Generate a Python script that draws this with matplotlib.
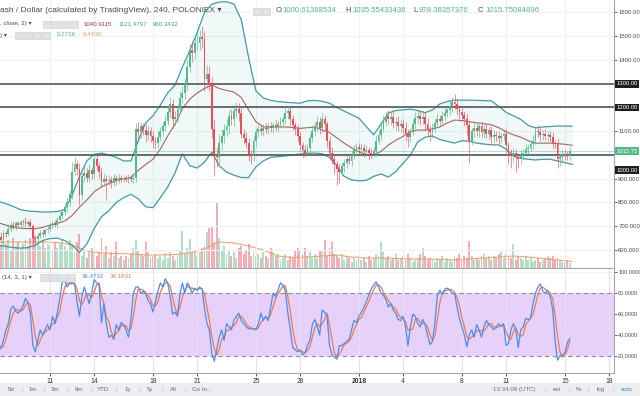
import numpy as np
import matplotlib.pyplot as plt
import matplotlib.transforms as mtransforms
from matplotlib.patches import Rectangle

plt.rcParams['font.family'] = ['Liberation Sans', 'DejaVu Sans']

# 4h candles, first one Dec 7 12:00 UTC; day 0 = Dec 11
first_open = 662
closes = [
    655, 640, 672,                              # Dec 7
    668, 690, 705, 698, 712, 706,               # Dec 8
    716, 722, 710, 718, 700, 650,               # Dec 9
    648, 660, 672, 668, 684, 690,               # Dec 10
    700, 712, 705, 728, 745, 760,               # Dec 11
    780, 800, 835, 930, 960, 940,               # Dec 12
    830, 910, 925, 905, 935, 920,               # Dec 13
    985, 955, 930, 885, 900, 890,               # Dec 14
    895, 880, 902, 890, 905, 898,               # Dec 15
    902, 895, 908, 898, 905, 1110,              # Dec 16
    1095, 1120, 1105, 1085, 1100, 1080,         # Dec 17
    1060, 1050, 1075, 1100, 1120, 1145,         # Dec 18
    1180, 1215, 1150, 1160, 1195, 1240,         # Dec 19
    1260, 1300, 1370, 1440, 1430, 1470,         # Dec 20
    1470, 1495, 1490, 1320, 1340, 1300,         # Dec 21
    1110, 1000, 990, 1050, 1080, 1105,          # Dec 22
    1120, 1165, 1150, 1185, 1195, 1175,         # Dec 23
    1090, 1070, 1050, 1005, 1000, 1060,         # Dec 24
    1095, 1110, 1100, 1115, 1108, 1120,         # Dec 25
    1112, 1125, 1118, 1130, 1140, 1150,         # Dec 26
    1175, 1185, 1150, 1125, 1110, 1080,         # Dec 27
    1040, 1020, 1010, 1030, 1070, 1100,         # Dec 28
    1120, 1140, 1115, 1150, 1130, 1060,         # Dec 29
    1010, 985, 960, 940, 930, 955,              # Dec 30
    965, 985, 975, 1000, 1020, 1035,            # Dec 31
    1025, 1030, 1015, 1020, 1010, 1005,         # Jan 1
    1015, 1060, 1085, 1110, 1140, 1165,         # Jan 2
    1150, 1160, 1135, 1140, 1120, 1130,         # Jan 3
    1115, 1090, 1075, 1100, 1130, 1155,         # Jan 4
    1165, 1150, 1160, 1130, 1105, 1095,         # Jan 5
    1115, 1135, 1150, 1145, 1165, 1175,         # Jan 6
    1190, 1205, 1225, 1215, 1195, 1180,         # Jan 7
    1170, 1150, 1125, 1060, 1100, 1115,         # Jan 8
    1100, 1120, 1095, 1110, 1090, 1105,         # Jan 9
    1075, 1085, 1080, 1070, 1078, 1090,         # Jan 10
    1040, 1000, 995, 1010, 990, 985,            # Jan 11
    1000, 1010, 1025, 1030, 1045, 1060,         # Jan 12
    1100, 1095, 1085, 1090, 1080, 1085,         # Jan 13
    1075, 1050, 1045, 985, 990, 1005,           # Jan 14
    1003, 1000.61, 1015.75,                     # Jan 15
]
wick_up = [
    15, 20, 12,
    10, 14, 12, 18, 10, 12,
    12, 10, 16, 10, 14, 10,
    14, 10, 12, 16, 10, 12,
    12, 10, 14, 12, 15, 10,
    15, 20, 18, 40, 30, 20,
    25, 20, 30, 20, 25, 15,
    25, 20, 15, 20, 25, 15,
    20, 15, 18, 12, 15, 10,
    10, 12, 14, 10, 20, 25,
    30, 20, 15, 25, 20, 18,
    20, 15, 25, 18, 20, 25,
    25, 30, 20, 25, 20, 30,
    30, 25, 30, 30, 40, 25,
    40, 30, 50, 30, 40, 35,
    30, 40, 30, 40, 30, 25,
    30, 25, 30, 25, 30, 25,
    25, 20, 25, 20, 15, 20,
    20, 15, 20, 15, 20, 15,
    20, 15, 25, 15, 20, 20,
    25, 20, 15, 20, 15, 20,
    20, 15, 20, 15, 20, 25,
    20, 25, 20, 25, 20, 15,
    20, 25, 20, 15, 20, 15,
    20, 15, 20, 15, 20, 15,
    15, 20, 15, 20, 15, 20,
    20, 25, 20, 25, 30, 20,
    25, 20, 30, 20, 25, 20,
    20, 25, 20, 15, 20, 25,
    25, 20, 30, 20, 25, 15,
    20, 15, 25, 20, 20, 25,
    20, 25, 20, 30, 20, 15,
    20, 15, 25, 20, 15, 20,
    20, 15, 20, 15, 20, 15,
    15, 20, 15, 20, 15, 20,
    20, 15, 25, 20, 15, 20,
    20, 15, 20, 15, 20, 25,
    20, 25, 20, 15, 20, 15,
    15, 20, 15, 25, 20, 15,
    20, 15, 19.8,
]
wick_dn = [
    18, 10, 15,
    12, 10, 15, 8, 14, 10,
    10, 14, 8, 12, 10, 22,
    20, 12, 8, 14, 10, 12,
    10, 12, 8, 12, 10, 14,
    12, 18, 15, 20, 15, 25,
    40, 20, 25, 20, 18, 20,
    15, 20, 25, 20, 15, 80,
    15, 20, 12, 15, 10, 12,
    12, 10, 14, 10, 15, 20,
    40, 25, 20, 30, 20, 25,
    30, 25, 20, 15, 18, 20,
    20, 25, 35, 25, 20, 20,
    20, 25, 30, 20, 40, 25,
    30, 30, 40, 50, 40, 30,
    40, 90, 40, 30, 30, 30,
    25, 30, 25, 30, 25, 30,
    20, 25, 20, 30, 40, 25,
    25, 20, 15, 20, 15, 20,
    15, 20, 15, 20, 15, 18,
    20, 25, 30, 20, 25, 20,
    25, 30, 20, 15, 20, 15,
    15, 20, 25, 20, 25, 30,
    30, 25, 40, 65, 50, 20,
    25, 20, 15, 20, 15, 20,
    20, 15, 25, 20, 30, 20,
    15, 20, 15, 20, 15, 20,
    20, 25, 20, 30, 20, 25,
    25, 30, 40, 20, 15, 20,
    20, 25, 20, 30, 25, 35,
    25, 20, 15, 20, 15, 20,
    15, 20, 25, 20, 25, 30,
    25, 30, 40, 95, 20, 25,
    20, 25, 20, 25, 20, 25,
    30, 25, 20, 25, 20, 15,
    30, 40, 50, 30, 60, 40,
    25, 20, 15, 20, 15, 20,
    15, 20, 25, 20, 15, 20,
    20, 25, 15, 40, 30, 20,
    25, 20, 22.2,
]
# volume in thousands
volume = [
    30, 22, 26,
    24, 28, 18, 30, 22, 26,
    20, 24, 28, 22, 30, 38,
    32, 26, 22, 28, 20, 24,
    22, 18, 26, 20, 24, 28,
    22, 18, 28, 24, 16, 26,
    34, 12, 18, 10, 16, 20,
    18, 12, 16, 30, 14, 22,
    10, 16, 12, 26, 10, 12,
    8, 12, 10, 14, 20, 28,
    18, 14, 12, 26, 16, 10,
    12, 14, 10, 12, 8, 15,
    10, 16, 12, 8, 14, 18,
    37, 14, 20, 29, 16, 18,
    12, 16, 20, 22, 36, 40,
    42, 26, 65, 30, 18, 22,
    14, 18, 12, 16, 10, 20,
    22, 14, 18, 24, 12, 16,
    12, 14, 10, 16, 12, 10,
    20, 16, 12, 14, 8, 10,
    14, 8, 12, 10, 18, 20,
    18, 14, 20, 12, 16, 10,
    14, 10, 18, 16, 28, 12,
    20, 26, 14, 12, 10, 14,
    8, 12, 10, 6, 10, 8,
    12, 8, 10, 6, 12, 8,
    10, 14, 12, 26, 16, 10,
    12, 8, 10, 14, 8, 10,
    12, 8, 14, 10, 6, 8,
    10, 14, 20, 12, 8, 10,
    8, 6, 10, 8, 12, 6,
    10, 8, 6, 12, 10, 14,
    8, 12, 10, 27, 12, 8,
    10, 8, 12, 14, 10, 12,
    8, 12, 10, 14, 16, 10,
    14, 12, 10, 24, 8, 12,
    10, 8, 12, 8, 10, 6,
    8, 10, 6, 8, 10, 12,
    10, 12, 8, 10, 8, 6,
    6, 8, 5.273,
]
stoch_k = [
    25, 28, 35,
    45, 51, 65, 68, 63, 61,
    64, 68, 75, 71, 60, 30,
    24, 35, 45, 40, 45, 50,
    45, 58, 51, 62, 75, 91,
    92, 86, 90, 90, 89, 72,
    58, 77, 86, 78, 70, 80,
    93, 90, 88, 52, 70, 50,
    38, 40, 36, 50, 45, 52,
    50, 45, 38, 55, 80, 86,
    86, 80, 82, 80, 73, 70,
    62, 72, 82, 90, 86, 94,
    90, 77, 60, 62, 58, 80,
    90, 80, 90, 86, 80, 85,
    83, 86, 84, 66, 51, 45,
    22, 15, 26, 38, 45, 35,
    51, 48, 45, 54, 58, 61,
    54, 51, 48, 46, 46, 46,
    45, 51, 61, 54, 58, 54,
    67, 80, 77, 83, 90, 88,
    82, 61, 45, 28, 26, 24,
    26, 21, 23, 30, 35, 50,
    55, 48, 40, 64, 62, 58,
    30, 21, 19, 17, 30, 30,
    32, 34, 36, 45, 54, 52,
    58, 62, 66, 72, 78, 84,
    88, 91, 86, 80, 78, 74,
    67, 70, 64, 61, 55, 54,
    58, 48, 30, 48, 60, 58,
    51, 48, 55, 50, 40, 31,
    34, 52, 78, 83, 79, 84,
    85, 83, 80, 80, 67, 56,
    48, 40, 29, 40, 45, 38,
    50, 45, 38, 48, 54, 50,
    48, 45, 48, 51, 48, 51,
    30, 32, 45, 51, 45, 28,
    45, 48, 56, 55, 56, 70,
    80, 86, 89, 82, 80, 83,
    77, 65, 35, 16, 20, 21,
    23, 33, 36.4732,
]
stoch_d = [
    30, 28, 29,
    36, 45, 54, 61, 65, 64,
    63, 64, 69, 71, 69, 54,
    38, 30, 35, 40, 43, 45,
    47, 51, 51, 57, 63, 76,
    86, 90, 89, 89, 90, 84,
    73, 69, 74, 80, 78, 76,
    81, 88, 90, 77, 70, 57,
    53, 43, 38, 42, 44, 49,
    49, 49, 44, 46, 58, 74,
    84, 84, 83, 81, 78, 74,
    68, 68, 72, 81, 86, 90,
    90, 87, 76, 66, 60, 67,
    76, 83, 87, 85, 85, 84,
    83, 85, 84, 79, 67, 54,
    39, 27, 21, 26, 36, 39,
    44, 45, 48, 49, 52, 58,
    58, 55, 51, 48, 47, 46,
    46, 47, 52, 55, 58, 55,
    60, 67, 75, 80, 83, 87,
    87, 77, 63, 45, 33, 26,
    25, 24, 23, 25, 29, 38,
    47, 51, 48, 51, 55, 61,
    50, 36, 23, 19, 22, 26,
    31, 32, 34, 38, 45, 50,
    55, 57, 62, 67, 72, 78,
    83, 88, 88, 86, 81, 77,
    73, 70, 67, 65, 60, 57,
    56, 53, 45, 45, 46, 55,
    56, 52, 51, 51, 48, 40,
    35, 39, 55, 71, 80, 82,
    83, 84, 83, 81, 76, 68,
    57, 48, 39, 36, 38, 41,
    44, 44, 44, 44, 47, 51,
    51, 48, 47, 48, 49, 50,
    43, 38, 36, 43, 47, 41,
    39, 40, 50, 53, 56, 60,
    69, 79, 85, 86, 84, 82,
    80, 75, 59, 39, 24, 19,
    21, 26, 34.1831,
]

# Bollinger bands (20, close, 2), read every half day
bb_days = [-3.5 + 0.5 * k for k in range(79)]
bb_upper = [805, 795, 783, 770, 764, 762, 760, 760, 762, 770, 830, 910, 975, 1003, 1008,
            1000, 990, 975, 975, 1060, 1135, 1165, 1210, 1262, 1295, 1370, 1440, 1515,
            1600, 1635, 1644, 1645, 1636, 1570, 1410, 1270, 1240, 1230, 1225, 1222, 1220,
            1218, 1228, 1230, 1226, 1218, 1200, 1185, 1170, 1155, 1120, 1085, 1130, 1177,
            1187, 1190, 1193, 1187, 1178, 1190, 1215, 1225, 1231, 1231, 1231, 1230, 1229,
            1228, 1205, 1180, 1165, 1150, 1125, 1114, 1118, 1120, 1122, 1122, 1121.48]
bb_basis = [714, 705, 695, 692, 690, 690, 695, 705, 712, 722, 745, 780, 810, 845, 866,
            880, 893, 900, 905, 935, 960, 982, 1025, 1080, 1130, 1195, 1235, 1261,
            1280, 1295, 1280, 1272, 1265, 1242, 1190, 1140, 1118, 1118, 1118, 1118, 1116,
            1112, 1115, 1118, 1105, 1095, 1072, 1050, 1030, 1013, 1002, 1000, 1015, 1042,
            1062, 1078, 1098, 1105, 1105, 1110, 1118, 1135, 1147, 1145, 1140, 1136, 1132,
            1127, 1115, 1098, 1085, 1075, 1060, 1050, 1050, 1050, 1048, 1045, 1040.91]
bb_lower = [620, 615, 610, 608, 610, 620, 640, 648, 650, 640, 620, 590, 625, 690, 740,
            765, 800, 820, 835, 815, 782, 778, 820, 865, 925, 1005, 955, 945,
            970, 1012, 955, 928, 915, 905, 905, 950, 975, 990, 993, 996, 1000,
            1004, 1007, 1008, 1005, 990, 955, 910, 895, 891, 893, 910, 920, 907,
            930, 965, 1000, 1055, 1075, 1080, 1065, 1058, 1050, 1060, 1058, 1050, 1046,
            1043, 1042, 1025, 995, 987, 982, 979, 982, 982, 975, 968, 960.34]

# volume moving average, read once a day
vma_days = [-3.5 + k for k in range(40)]
vma = [26, 26, 26, 26, 25.5, 23, 17, 15, 14.5, 14, 13, 13, 13.5, 15, 19, 26, 25, 22, 18, 12,
       10.5, 11, 12, 13, 11, 10, 10, 9.5, 9, 9, 8.5, 8, 9, 10, 11, 12, 11, 9.5, 8, 6.443]

levels = [1300, 1200, 1000]
tick_days = [0, 3, 7, 10, 14, 17, 21, 24, 28, 31, 35, 38]
tick_names = ['11', '14', '18', '21', '25', '28', '2018', '4', '8', '11', '15', '18']

UP, DN = '#53b987', '#eb4d5c'
BAND, BASIS = '#3f9da6', '#a86464'
K_COL, D_COL = '#4a8ff0', '#f07a48'
GRID, AXC, TXT = '#eef1f5', '#a3a6ab', '#4a4a4a'

W, H = 640, 396
fig = plt.figure(figsize=(6.4, 3.96), dpi=100)


def fx(px):
    return px / W


def fy(py):
    return 1 - py / H


ax = fig.add_axes([0, fy(268), fx(614), 268 / H])
rsi = fig.add_axes([0, fy(373), fx(614), 104 / H])
vol = ax.twinx()
ax.set_zorder(3)
ax.patch.set_visible(False)
vol.set_zorder(2)

t = -3.5 + np.arange(len(closes)) / 6.0
c = np.array(closes, dtype=float)
o = np.r_[first_open, c[:-1]]
hi = np.maximum(o, c) + np.array(wick_up)
lo = np.minimum(o, c) - np.array(wick_dn)
col = np.where(c >= o, UP, DN)

xlim = (-3.40, 38.34)

# grid
for a in (ax, rsi):
    for d in tick_days:
        a.axvline(d, color=GRID, lw=0.8, zorder=0)
for p in range(600, 1700, 100):
    ax.axhline(p, color=GRID, lw=0.8, zorder=0)

# bollinger
ax.fill_between(bb_days, bb_lower, bb_upper, color=BAND, alpha=0.07, lw=0, zorder=1)
ax.plot(bb_days, bb_upper, color=BAND, lw=0.9, zorder=2)
ax.plot(bb_days, bb_lower, color=BAND, lw=0.9, zorder=2)
ax.plot(bb_days, bb_basis, color=BASIS, lw=0.8, zorder=2)

for p in levels:
    ax.axhline(p, color='#555555', lw=1.2, zorder=3)
ax.axhline(c[-1], color=UP, lw=0.6, alpha=0.5, zorder=3)

# candles
ax.vlines(t, lo, hi, colors=col, lw=0.55, alpha=0.8, zorder=4)
ax.bar(t, np.maximum(np.abs(c - o), 2.5), bottom=np.minimum(o, c), width=0.125,
       color=col, lw=0, zorder=5)

ax.set_xlim(*xlim)
ax.set_ylim(524.2, 1652.6)

# volume
vol.bar(t, volume, width=0.13, color=col, alpha=0.45, lw=0)
vol.plot(vma_days, vma, color='#ff9a55', lw=0.8, alpha=0.9)
vol.set_ylim(0, 268)
vol.set_xlim(*xlim)
vol.yaxis.set_visible(False)
for s in vol.spines.values():
    s.set_visible(False)

# price scale on the right
ax.yaxis.tick_right()
pticks = [600, 700, 800, 900, 1100, 1400, 1500, 1600]
ax.set_yticks(pticks)
ax.set_yticklabels([f'{p:.2f}' if p >= 1000 else f'{p:.3f}' for p in pticks])
ax.tick_params(axis='y', labelsize=4.3, colors=TXT, length=2, width=0.6, pad=1.0)
ax.tick_params(axis='x', bottom=False, labelbottom=False)
for s in ('top', 'left'):
    ax.spines[s].set_visible(False)
ax.spines['right'].set_color(AXC)
ax.spines['bottom'].set_color(AXC)
ax.spines['right'].set_linewidth(0.8)
ax.spines['bottom'].set_linewidth(0.8)

tr = mtransforms.blended_transform_factory(ax.transAxes, ax.transData)
for p, lab, fc in [(1300, '1300.00', '#1e1e1e'), (1200, '1200.00', '#1e1e1e'),
                   (936.8, '1000.00', '#1e1e1e'), (c[-1], f'{c[-1]:.2f}', UP)]:
    ax.text(1.004, p, lab, transform=tr, ha='left', va='center', fontsize=4.2,
            color='white', clip_on=False, zorder=10,
            bbox=dict(boxstyle='square,pad=0.25', fc=fc, ec='none'))

# stochastic RSI pane
rsi.axhspan(20, 80, color='#e7d1fb', lw=0, zorder=0)
for d in tick_days:
    rsi.axvline(d, color='#e4e3f5', lw=0.8, zorder=0.5)
for v in (40, 60, 100):
    rsi.axhline(v, color='#ddd5ee' if v < 100 else GRID, lw=0.8, zorder=0.5)
for v in (20, 80):
    rsi.axhline(v, color='#8d8f96', lw=0.8, ls=(0, (4, 3)), zorder=1)
rsi.plot(t, stoch_k, color=K_COL, lw=0.9, zorder=3)
rsi.plot(t, stoch_d, color=D_COL, lw=0.9, zorder=2)
rsi.set_xlim(*xlim)
rsi.set_ylim(3.7, 103.3)
rsi.yaxis.tick_right()
rsi.set_yticks([20, 40, 60, 80, 100])
rsi.set_yticklabels([f'{v:.4f}' for v in [20, 40, 60, 80, 100]])
rsi.tick_params(axis='y', labelsize=3.9, colors=TXT, length=2, width=0.6, pad=1.0)
rsi.set_xticks(tick_days)
rsi.set_xticklabels(tick_names)
rsi.tick_params(axis='x', labelsize=4.9, colors='#333333', length=2, width=0.6, pad=1.5)
for lab in rsi.get_xticklabels():
    lab.set_fontweight('bold' if lab.get_text() == '2018' else 'normal')
rsi.spines['top'].set_visible(False)
rsi.spines['left'].set_visible(False)
for s in ('right', 'bottom'):
    rsi.spines[s].set_color(AXC)
    rsi.spines[s].set_linewidth(0.8)


# legends
def txt(px, py, s, color=TXT, size=4.4, **kw):
    fig.text(fx(px), fy(py), s, color=color, fontsize=size, va='center', ha='left', **kw)


def icons(px, py, n):
    for k in range(n):
        fig.patches.append(Rectangle((fx(px + k * 9), fy(py + 4)), fx(7.5), 7.5 / H,
                                     transform=fig.transFigure, fc='#e1e3e6',
                                     ec='#c9ccd0', lw=0.4, zorder=5))


txt(0, 11, 'ash / Dollar (calculated by TradingView), 240, POLONIEX \u25be', size=6.0)
icons(253, 11, 2)
txt(276, 11, 'O', size=5.6)
txt(282, 11, '1000.61388534', color=UP, size=5.6)
txt(345, 11, 'H', size=5.6)
txt(352, 11, '1035.55433436', color=UP, size=5.6)
txt(413, 11, 'L', size=5.6)
txt(419, 11, '978.38357376', color=UP, size=5.6)
txt(478, 11, 'C', size=5.6)
txt(485, 11, '1015.75084896', color=UP, size=5.6)

txt(0, 24, ', close, 2) \u25be')
icons(43, 24, 4)
txt(84, 24, '1040.9115', color='#8c3f3f')
txt(119, 24, '1121.4797', color=BAND)
txt(153, 24, '960.3432', color=BAND)

txt(0, 35, ') \u25be')
icons(15, 35, 4)
txt(57, 35, '5.273K', color=UP)
txt(83, 35, '6.443K', color='#f29a5a')

txt(2, 277, '(14, 3, 1) \u25be')
icons(40, 277, 4)
txt(82, 277, '36.4732', color=K_COL)
txt(110, 277, '34.1831', color=D_COL)

# bottom toolbar
fig.patches.append(Rectangle((0, 0), 1, 13 / H, transform=fig.transFigure,
                             fc='#eceef1', ec='none', zorder=0))
for px, s in [(11, '5d'), (33, '1m'), (55, '3m'), (79, '6m'), (103, 'YTD'),
              (128, '1y'), (150, '5y'), (173, 'All')]:
    fig.text(fx(px), fy(389.5), s, color='#6a6d73', fontsize=4.4, ha='center', va='center')
for px in (22, 44, 67, 91, 116, 139, 162, 185, 545, 569, 588, 613):
    fig.text(fx(px), fy(389.5), '|', color='#c3c6cb', fontsize=4.4, ha='center', va='center')
txt(192, 389.5, 'Go to...', color='#6a6d73')
fig.text(fx(514), fy(389.5), '13:34:09 (UTC)', color='#6a6d73', fontsize=4.4,
         ha='center', va='center')
for px, s, cc in [(557, 'ext', '#6a6d73'), (578, '%', '#6a6d73'),
                  (601, 'log', '#6a6d73'), (627, 'auto', '#2196f3')]:
    fig.text(fx(px), fy(389.5), s, color=cc, fontsize=4.4, ha='center', va='center')

fig.savefig('out.png', dpi=100)
